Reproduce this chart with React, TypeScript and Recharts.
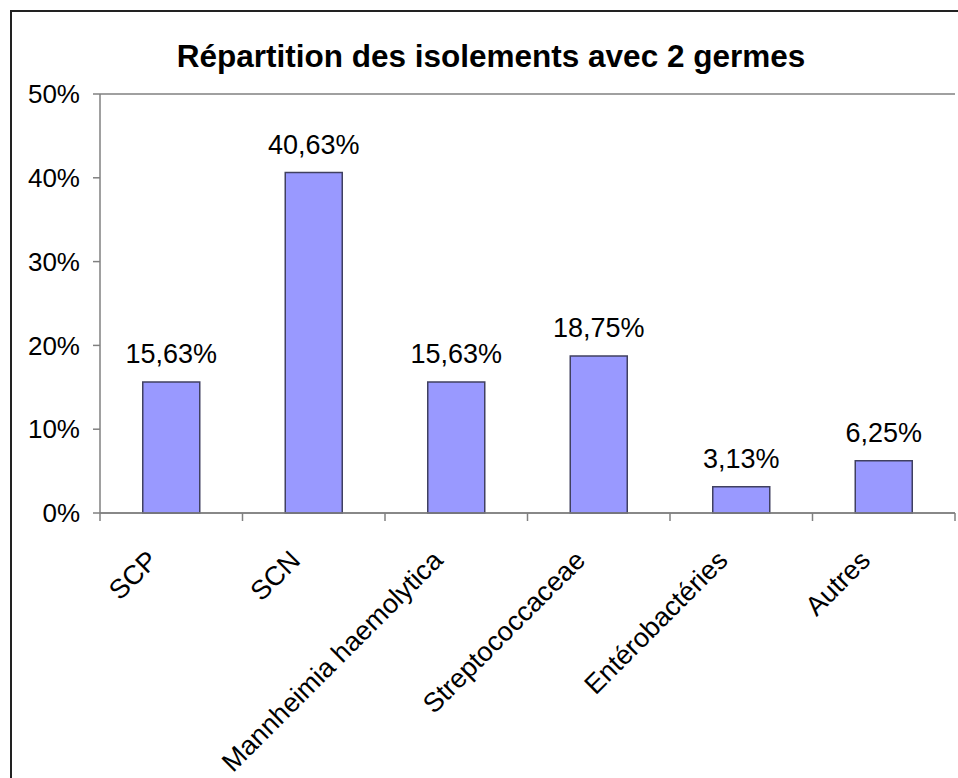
import { BarChart, Bar, XAxis, YAxis, CartesianGrid, LabelList } from 'recharts'

const categories = ['SCP', 'SCN', 'Mannheimia haemolytica', 'Streptococcaceae', 'Entérobactéries', 'Autres']
const percents = [15.63, 40.63, 15.63, 18.75, 3.13, 6.25]
const yTicks = [0, 10, 20, 30, 40, 50]

const data = categories.map((name, i) => ({ name, value: percents[i] }))

const FONT = '"Liberation Sans", Arial, sans-serif'
const GRID = '#808080'

const fmtPct = (v: number) => `${v.toFixed(2).replace('.', ',')}%`

// category label rotated 45deg, with tick marks on the band edges
const CategoryTick = (props: any) => {
    const { x, y, payload, index, width, visibleTicksCount } = props
    const half = payload?.offset || (width / visibleTicksCount) / 2
    const last = index === visibleTicksCount - 1
    return (
        <g>
            <line x1={x - half} y1={y} x2={x - half} y2={y + 8} stroke={GRID} strokeWidth={1.5} />
            {last && <line x1={x + half} y1={y} x2={x + half} y2={y + 8} stroke={GRID} strokeWidth={1.5} />}
            <text
                x={x - 12}
                y={y + 49}
                textAnchor="end"
                transform={`rotate(-45, ${x - 12}, ${y + 49})`}
                fontSize={27}
                fontFamily={FONT}
                fill="#000"
            >
                {payload.value}
            </text>
        </g>
    )
}

export default function App() {
    return (
        <div style={{ position: 'fixed', left: 0, top: 0, width: 958, height: 778, overflow: 'hidden', background: '#fff' }}>
            <BarChart
                width={958}
                height={778}
                data={data}
                margin={{ top: 94, right: 3, bottom: 10, left: 10 }}
                barCategoryGap="30%"
                style={{ fontFamily: FONT }}
            >
                <CartesianGrid vertical={false} stroke={GRID} strokeWidth={1.5} strokeDasharray="" />
                <XAxis
                    dataKey="name"
                    interval={0}
                    height={255}
                    tickSize={0}
                    tickMargin={0}
                    tickLine={false}
                    axisLine={{ stroke: GRID, strokeWidth: 1.5 }}
                    tick={<CategoryTick />}
                />
                <YAxis
                    yAxisId="left"
                    width={90}
                    domain={[0, 50]}
                    ticks={yTicks}
                    tickFormatter={(v: number) => `${v}%`}
                    tickSize={7}
                    tickMargin={13}
                    tickLine={{ stroke: GRID, strokeWidth: 1.5 }}
                    axisLine={{ stroke: GRID, strokeWidth: 1.5 }}
                    tick={{ fill: '#000', fontSize: 26, fontFamily: FONT }}
                />
                <YAxis
                    yAxisId="right"
                    orientation="right"
                    width={0}
                    domain={[0, 50]}
                    tick={false}
                    tickLine={false}
                    axisLine={{ stroke: GRID, strokeWidth: 1.5 }}
                />
                <Bar
                    yAxisId="left"
                    dataKey="value"
                    fill="#9999FF"
                    stroke="#404060"
                    strokeWidth={1.5}
                    isAnimationActive={false}
                >
                    <LabelList
                        dataKey="value"
                        position="top"
                        offset={19}
                        formatter={(v: any) => fmtPct(Number(v))}
                        fill="#000"
                        fontSize={27}
                        fontFamily={FONT}
                    />
                </Bar>
            </BarChart>
            <svg width={958} height={778} style={{ position: 'absolute', left: 0, top: 0, pointerEvents: 'none' }}>
                <rect x={11} y={11} width={1000} height={1000} fill="none" stroke="#222" strokeWidth={2} />
                <text x={491} y={67} textAnchor="middle" fontSize={31.5} fontWeight="bold" fontFamily={FONT} fill="#000">
                    Répartition des isolements avec 2 germes
                </text>
            </svg>
        </div>
    )
}
